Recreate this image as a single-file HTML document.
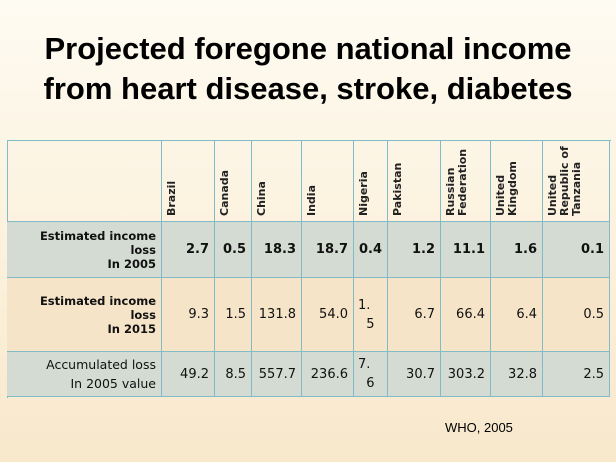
<!DOCTYPE html>
<html><head><style>
body{margin:0;width:616px;height:462px;overflow:hidden;background:linear-gradient(180deg,#fefbf2 0%,#fbf0da 60%,#f8e8cc 100%);font-family:"DejaVu Sans",sans-serif;position:relative}
h1{position:absolute;top:29px;left:0;width:616px;margin:0;text-align:center;font-family:"Liberation Sans",sans-serif;font-size:31px;line-height:40px;font-weight:bold;color:#000;letter-spacing:0px}
.c{position:absolute;box-sizing:border-box;border-right:1px solid #7fbcc8;border-bottom:1px solid #7fbcc8;font-size:13px;color:#111;display:flex;align-items:center;justify-content:flex-end;padding-right:5px}
.h{position:absolute;top:140px;height:82px;box-sizing:border-box;border-right:1px solid #7fbcc8;border-bottom:1px solid #7fbcc8}
.h span{position:absolute;left:4px;bottom:5px;transform-origin:0 100%;transform:rotate(-90deg) translate(0,100%);white-space:nowrap;font-size:11px;font-weight:bold;line-height:12px;color:#222}
.g{background:#d3dbd2}.p{background:#f6e4c8}
.l{text-align:right;font-size:11.5px;line-height:14px}
</style></head><body>
<h1>Projected foregone national income<br>from heart disease, stroke, diabetes</h1>
<div style="position:absolute;left:7px;top:140px;width:603px;height:257px;border-left:1px solid #7fbcc8;border-top:1px solid #7fbcc8"></div>
<div id="t"></div>
<div style="position:absolute;left:445px;top:420px;font-size:13px;font-family:'Liberation Sans',sans-serif">WHO, 2005</div>
<script>
var xs=[7,162,215,252,302,354,388,441,491,543,610];
var names=["Brazil","Canada","China","India","Nigeria","Pakistan","Russian<br>Federation","United<br>Kingdom","United<br>Republic of<br>Tanzania"];
var rows=[[140,222],[222,278],[278,352],[352,397]];
var labels=["<b>Estimated income<br>loss<br>In 2005</b>","<b>Estimated income<br>loss<br>In 2015</b>","Accumulated loss<br>In 2005 value"];
var data=[["2.7","0.5","18.3","18.7","0.4","1.2","11.1","1.6","0.1"],
["9.3","1.5","131.8","54.0","1.<br>&nbsp;&nbsp;5","6.7","66.4","6.4","0.5"],
["49.2","8.5","557.7","236.6","7.<br>&nbsp;&nbsp;6","30.7","303.2","32.8","2.5"]];
var h="";
h+='<div class="h" style="left:7px;width:155px"></div>';
for(var i=0;i<9;i++)h+='<div class="h" style="left:'+xs[i+1]+'px;width:'+(xs[i+2]-xs[i+1])+'px"><span>'+names[i]+'</span></div>';
for(var r=0;r<3;r++){var y=rows[r+1][0],hh=rows[r+1][1]-y,cl=r==1?"p":"g";
h+='<div class="c '+cl+' l" style="left:7px;top:'+y+'px;width:155px;height:'+hh+'px;'+(r==2?'font-size:12.5px;line-height:19px;':'')+'">'+labels[r]+'</div>';
for(var i=0;i<9;i++){var d=data[r][i];var st=(r==0?'font-weight:bold;':'')+(d.indexOf('<br>')>=0?'line-height:19px;justify-content:flex-start;padding-left:4px;':'');
h+='<div class="c '+cl+'" style="left:'+xs[i+1]+'px;top:'+y+'px;width:'+(xs[i+2]-xs[i+1])+'px;height:'+hh+'px;'+st+'">'+d+'</div>';}}
document.getElementById("t").innerHTML=h;
</script>
</body></html>
